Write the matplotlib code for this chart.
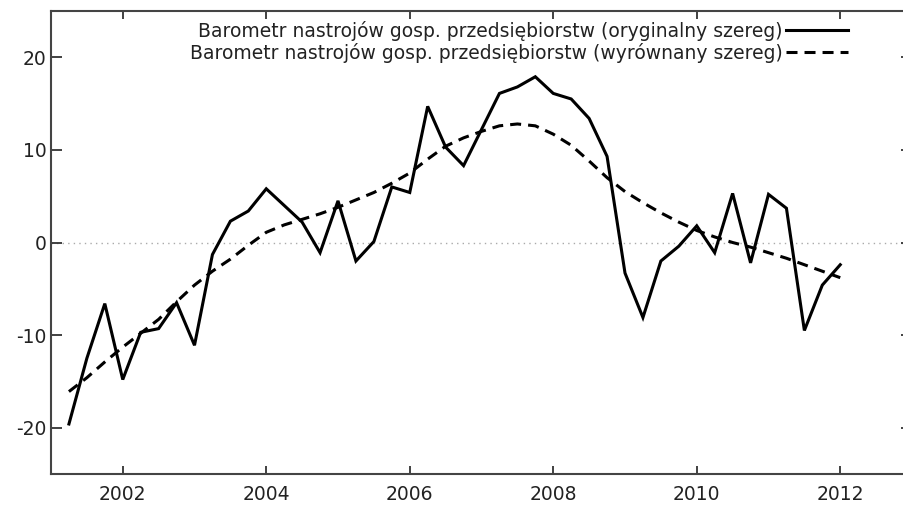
import matplotlib
matplotlib.use("Agg")
import matplotlib.pyplot as plt

# kwartalne punkty 2001 Q2 .. 2012 Q1
quarters = [2001 + 0.25 * i for i in range(1, 45)]

barometr_original = [
    -19.6, -12.5, -6.6, -14.8, -9.7, -9.3, -6.5, -11.1,
    -1.3, 2.3, 3.4, 5.8, 4.0, 2.2, -1.1, 4.5,
    -2.0, 0.1, 6.0, 5.4, 14.7, 10.3, 8.3, 12.2,
    16.1, 16.8, 17.9, 16.1, 15.5, 13.4, 9.3, -3.3,
    -8.1, -2.0, -0.4, 1.8, -1.1, 5.3, -2.2, 5.2,
    3.7, -9.5, -4.6, -2.4,
]

barometr_smoothed = [
    -16.1, -14.6, -12.9, -11.3, -9.8, -8.3, -6.4, -4.6,
    -3.1, -1.8, -0.3, 1.1, 1.9, 2.5, 3.1, 3.8,
    4.6, 5.4, 6.4, 7.5, 9.0, 10.4, 11.3, 12.0,
    12.6, 12.8, 12.6, 11.7, 10.5, 8.8, 7.0, 5.5,
    4.3, 3.2, 2.2, 1.3, 0.6, 0.0, -0.5, -1.1,
    -1.7, -2.4, -3.1, -3.8,
]

x_ticks = [2002, 2004, 2006, 2008, 2010, 2012]
y_ticks = [-20, -10, 0, 10, 20]

label_original = "Barometr nastrojów gosp. przedsiębiorstw (oryginalny szereg)"
label_smoothed = "Barometr nastrojów gosp. przedsiębiorstw (wyrównany szereg)"

plt.rcParams['font.family'] = ['DejaVu Sans']
plt.rcParams['axes.unicode_minus'] = False

fig = plt.figure(figsize=(9.04, 5.05), dpi=100)
# prawa krawedz osi wychodzi poza obrazek, jak w oryginale
ax = fig.add_axes([51 / 904, 31 / 505, 861 / 904, 463 / 505])

ax.axhline(0, color='#aaaaaa', lw=1.0, linestyle=(0, (1, 3)), zorder=1)
ax.plot(quarters, barometr_original, color='black', lw=2.2,
        solid_joinstyle='miter', label=label_original, zorder=3)
ax.plot(quarters, barometr_smoothed, color='black', lw=2.2,
        linestyle=(0, (3.6, 2.3)), label=label_smoothed, zorder=2)

ax.set_xlim(2001, 2013)
ax.set_ylim(-25, 25)
ax.set_xticks(x_ticks)
ax.set_yticks(y_ticks)

for side in ['left', 'bottom', 'top']:
    ax.spines[side].set_color('#444444')
    ax.spines[side].set_linewidth(1.5)
ax.spines['right'].set_visible(False)

ax.tick_params(axis='both', direction='in', colors='#333333', width=1.3,
               labelcolor='#222222', labelsize=13.5, top=True, right=True)
ax.tick_params(axis='x', length=6, pad=8)
ax.tick_params(axis='y', length=8, pad=3)

leg = ax.legend(loc='upper right', bbox_to_anchor=(848 / 904, 1 - 21 / 505),
                bbox_transform=fig.transFigure, frameon=False, markerfirst=False,
                fontsize=13.5, handlelength=3.3, handletextpad=0.2,
                labelspacing=0.1, borderpad=0, borderaxespad=0)
for t in leg.get_texts():
    t.set_color('#222222')

fig.savefig('out.png', dpi=100)
